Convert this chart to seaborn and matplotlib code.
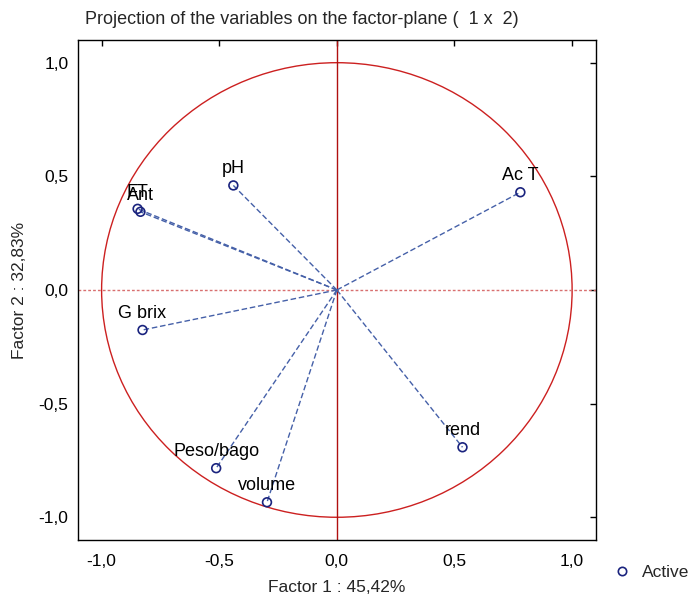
import matplotlib
matplotlib.use("Agg")
import matplotlib.pyplot as plt
from matplotlib.patches import Circle
from matplotlib.ticker import FuncFormatter
import seaborn as sns
import pandas as pd

# Variable loadings on factors 1 and 2
variables = ["pH", "Ac T", "FT", "Ant", "G brix", "Peso/bago", "volume", "rend"]
factor1 = [-0.44, 0.78, -0.847, -0.835, -0.826, -0.513, -0.297, 0.534]
factor2 = [0.46, 0.43, 0.357, 0.344, -0.176, -0.784, -0.934, -0.692]

df = pd.DataFrame({"variable": variables, "f1": factor1, "f2": factor2,
                   "group": "Active"})

sns.set_theme(style="white")
plt.rcParams["font.family"] = ["Liberation Sans", "DejaVu Sans"]

fig = plt.figure(figsize=(6.91, 6.01), dpi=100)
ax = fig.add_axes([0.113, 0.1015, 0.749, 0.832])

# unit circle and reference axes
ax.add_patch(Circle((0, 0), 1.0, fill=False, color="#cc2020", lw=1.0, zorder=1))
ax.axhline(0, color="#d87070", lw=1.0, ls=(0, (2, 1.5)), zorder=1)
ax.axvline(0, color="#b01010", lw=1.0, zorder=1)

# vectors from the origin
for x, y in zip(factor1, factor2):
    ax.plot([0, x], [0, y], color="#4560a8", lw=1.0, ls=(0, (4, 2)), zorder=2)

sns.scatterplot(data=df, x="f1", y="f2", hue="group", palette=["#1a237e"],
                marker="o", s=40, ax=ax, zorder=3, legend=False)
for c in ax.collections:
    c.set_facecolor("none")
    c.set_edgecolor("#1a237e")
    c.set_linewidth(1.2)

for name, x, y in zip(variables, factor1, factor2):
    ax.text(x, y + 0.035, name, ha="center", va="bottom", fontsize=13,
            color="black", zorder=4)

ax.set_xlim(-1.1, 1.1)
ax.set_ylim(-1.1, 1.1)
ticks = [-1.0, -0.5, 0.0, 0.5, 1.0]
ax.set_xticks(ticks)
ax.set_yticks(ticks)
fmt = FuncFormatter(lambda v, p: f"{v:.1f}".replace(".", ",").replace("-0,0", "0,0"))
ax.xaxis.set_major_formatter(fmt)
ax.yaxis.set_major_formatter(fmt)
ax.tick_params(axis="both", which="major", direction="in", length=4,
               top=True, right=True, labelsize=12.5, colors="black", width=1,
               pad=7)
ax.tick_params(axis="x", pad=10)
for s in ax.spines.values():
    s.set_color("black")
    s.set_linewidth(1.0)

ax.set_xlabel("Factor 1 : 45,42%", fontsize=12.5, labelpad=8)
ax.set_ylabel("Factor 2 : 32,83%", fontsize=12.5, labelpad=8)
fig.text(0.123, 0.968, "Projection of the variables on the factor-plane (  1 x  2)",
         fontsize=13, ha="left", va="center")

handle = plt.Line2D([], [], marker="o", ls="none", markerfacecolor="none",
                    markeredgecolor="#1a237e", markeredgewidth=1.2, markersize=6)
fig.legend([handle], ["Active"], loc="center left", bbox_to_anchor=(0.882, 0.048),
           frameon=False, fontsize=12.5, handletextpad=0.7, handlelength=1.0,
           borderpad=0.2, borderaxespad=0.0)

fig.savefig("out.png", dpi=100)
